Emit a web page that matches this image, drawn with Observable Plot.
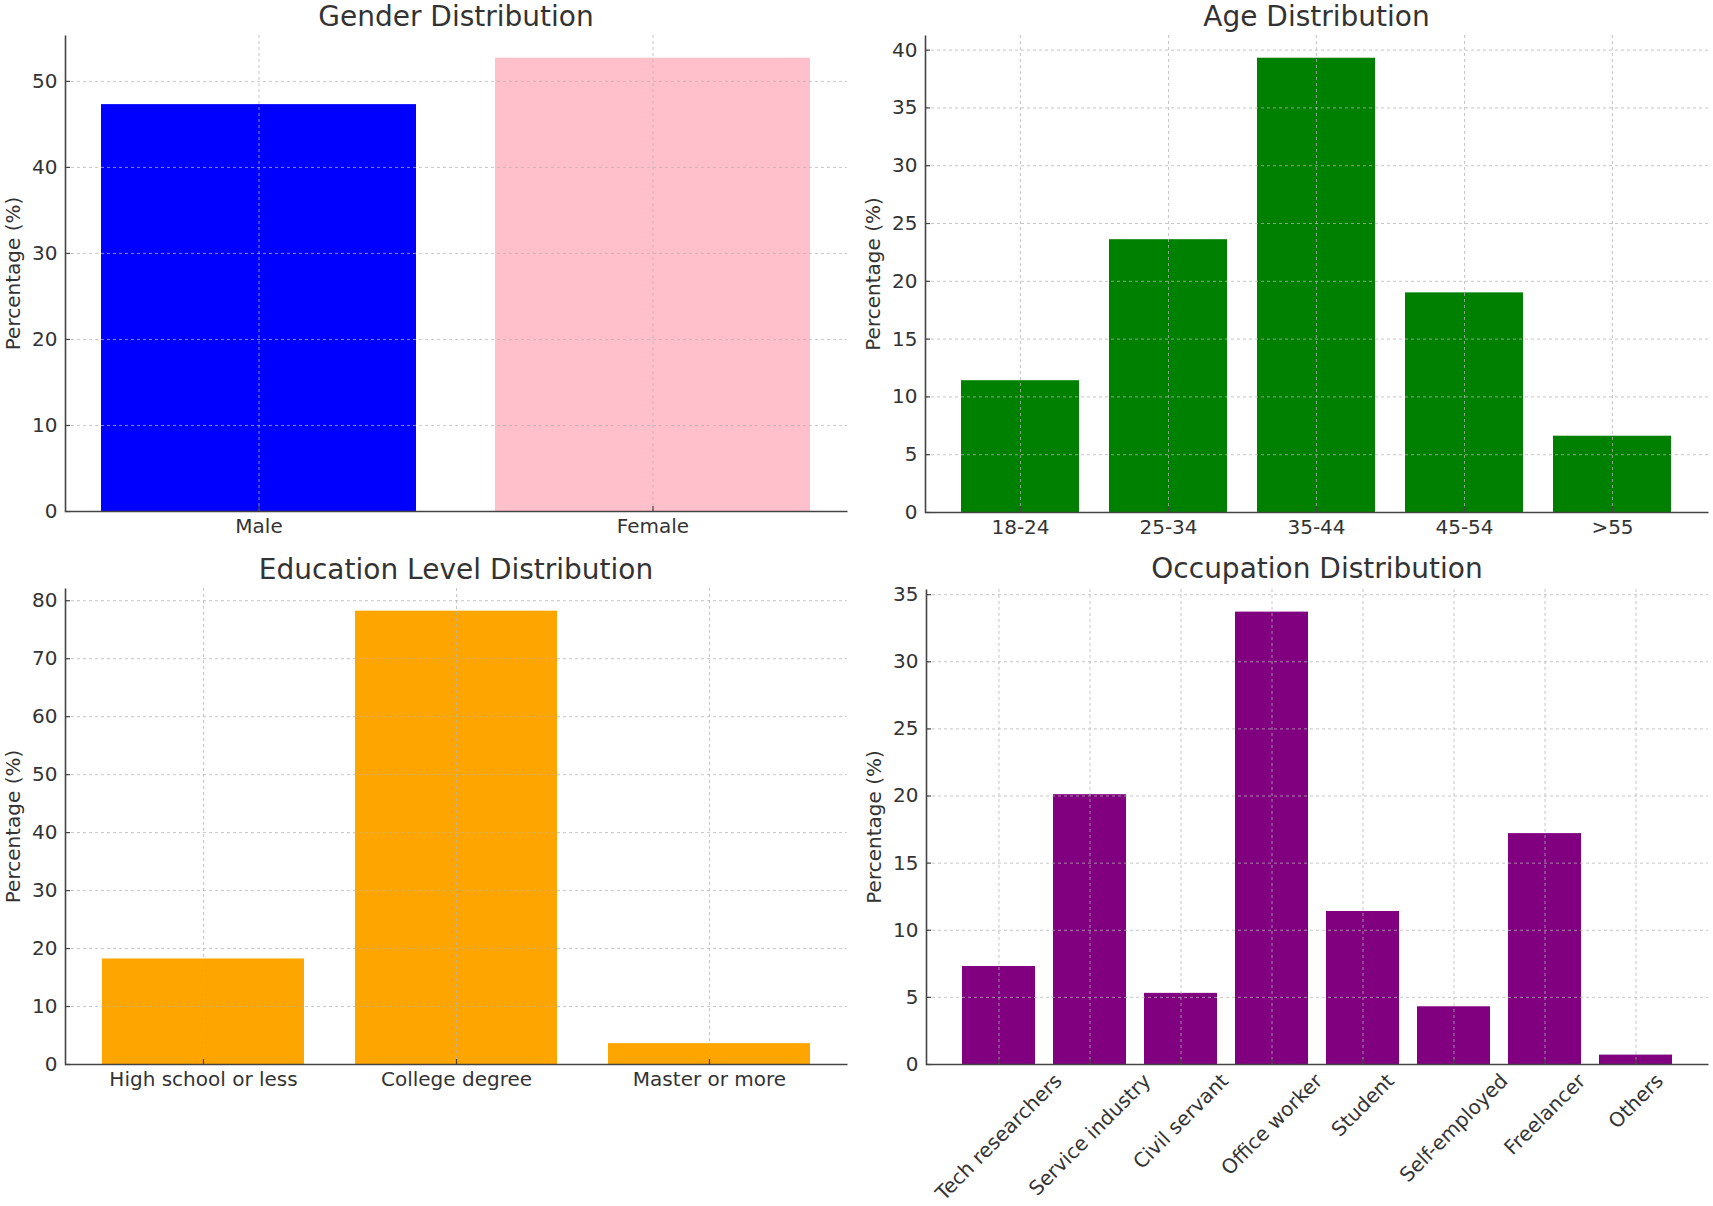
<!DOCTYPE html>
<html>
<head>
<meta charset="utf-8">
<script src="https://cdn.jsdelivr.net/npm/d3@7"></script>
<script src="https://cdn.jsdelivr.net/npm/@observablehq/plot@0.6"></script>
<style>
  html, body { margin: 0; padding: 0; background: #fff; }
  #wrap { position: relative; width: 1713px; height: 1206px; background: #fff; font-family: 'DejaVu Sans', sans-serif; color: #333; overflow: hidden; }
  .title { position: absolute; height: 34px; line-height: 34px; font-size: 28px; text-align: center; white-space: nowrap; color: #333; }
  .panel { position: absolute; }
</style>
</head>
<body>
<div id="wrap"></div>
<script>
// ---- data ----
const genderCats = ["Male", "Female"];
const genderVals = [47.3, 52.7];
const genderColors = ["#0000ff", "#ffc0cb"];
const genderTicks = [0, 10, 20, 30, 40, 50];

const ageCats = ["18-24", "25-34", "35-44", "45-54", ">55"];
const ageVals = [11.4, 23.6, 39.3, 19.0, 6.6];
const ageTicks = [0, 5, 10, 15, 20, 25, 30, 35, 40];

const eduCats = ["High school or less", "College degree", "Master or more"];
const eduVals = [18.2, 78.2, 3.6];
const eduTicks = [0, 10, 20, 30, 40, 50, 60, 70, 80];

const occCats = ["Tech researchers", "Service industry", "Civil servant", "Office worker", "Student", "Self-employed", "Freelancer", "Others"];
const occVals = [7.3, 20.1, 5.3, 33.7, 11.4, 4.3, 17.2, 0.7];
const occTicks = [0, 5, 10, 15, 20, 25, 30, 35];

const titles = ["Gender Distribution", "Age Distribution", "Education Level Distribution", "Occupation Distribution"];
const yLabel = "Percentage (%)";

// ---- drawing ----
const TEXT = "#333";
const SPINE = "#444";
const wrap = document.getElementById("wrap");
const ctx = document.createElement("canvas").getContext("2d");
ctx.font = "20px 'DejaVu Sans'";

function panel({title, cats, vals, colors, ticks, left, top, width, height, mt, mr, mb, ml, titleTop, rotate}) {
  const n = cats.length;
  const W = width - ml - mr, H = height - mt - mb;
  const data = cats.map((c, i) => ({cat: c, v: vals[i], color: colors[i % colors.length]}));
  const marks = [
    Plot.barY(data, {x: "cat", y: "v", fill: d => d.color}),
    Plot.gridY(ticks, {stroke: "#b4b4b4", strokeOpacity: 0.75, strokeDasharray: "3,3"}),
    Plot.gridX(cats, {stroke: "#b4b4b4", strokeOpacity: 0.75, strokeDasharray: "3,3"}),
    Plot.frame({stroke: SPINE, strokeWidth: 1.6, fill: "none", strokeDasharray: `0 ${W + H} ${W + H}`}),
    Plot.tickY(ticks, {y: d => d, insetRight: W - 5, stroke: SPINE, strokeWidth: 1.2}),
    Plot.tickX(cats, {x: d => d, insetTop: H - 5, stroke: SPINE, strokeWidth: 1.2}),
    Plot.axisY(ticks, {tickSize: 0, tickPadding: 8, fill: TEXT, fontSize: 20}),
    Plot.text([yLabel], {frameAnchor: "left", dx: -52, rotate: -90, textAnchor: "middle", lineAnchor: "middle", text: d => d, fill: TEXT, fontSize: 20})
  ];
  if (rotate) {
    cats.forEach(c => {
      const L = ctx.measureText(c).width;
      const h = 23;
      const off = 5 + (L + h) / (2 * Math.SQRT2);
      marks.push(Plot.text([c], {x: d => d, frameAnchor: "bottom", dy: off, rotate: -45, textAnchor: "middle", lineAnchor: "middle", text: d => d, fill: TEXT, fontSize: 20}));
    });
  } else {
    marks.push(Plot.axisX(cats, {tickSize: 0, tickPadding: 7, fill: TEXT, fontSize: 20}));
  }
  const chart = Plot.plot({
    width, height,
    marginTop: mt, marginRight: mr, marginBottom: mb, marginLeft: ml,
    style: {fontFamily: "'DejaVu Sans', sans-serif", fontSize: "20px", color: TEXT, background: "transparent", overflow: "visible"},
    x: {type: "band", domain: cats, paddingInner: 0.2, paddingOuter: 0.05 * (n - 0.2), align: 0.5, axis: null, label: null},
    y: {domain: [0, d3.max(vals) * 1.05], axis: null, label: null},
    marks
  });
  const div = document.createElement("div");
  div.className = "panel";
  div.style.left = left + "px";
  div.style.top = top + "px";
  div.appendChild(chart);
  wrap.appendChild(div);

  const t = document.createElement("div");
  t.className = "title";
  t.textContent = title;
  const cx = left + ml + W / 2;
  t.style.left = (cx - 400) + "px";
  t.style.width = "800px";
  t.style.top = titleTop + "px";
  wrap.appendChild(t);
}

panel({title: titles[0], cats: genderCats, vals: genderVals, colors: genderColors, ticks: genderTicks,
  left: 0, top: 0, width: 856, height: 545, mt: 35, mr: 9, mb: 34, ml: 65, titleTop: 0});
panel({title: titles[1], cats: ageCats, vals: ageVals, colors: ["#008000"], ticks: ageTicks,
  left: 856, top: 0, width: 857, height: 545, mt: 35, mr: 5, mb: 33, ml: 69, titleTop: 0});
panel({title: titles[2], cats: eduCats, vals: eduVals, colors: ["#ffa500"], ticks: eduTicks,
  left: 0, top: 553, width: 856, height: 545, mt: 35, mr: 9, mb: 34, ml: 65, titleTop: 553});
panel({title: titles[3], cats: occCats, vals: occVals, colors: ["#800080"], ticks: occTicks,
  left: 856, top: 553, width: 857, height: 653, mt: 36, mr: 5, mb: 142, ml: 70, titleTop: 552, rotate: true});
</script>
</body>
</html>
